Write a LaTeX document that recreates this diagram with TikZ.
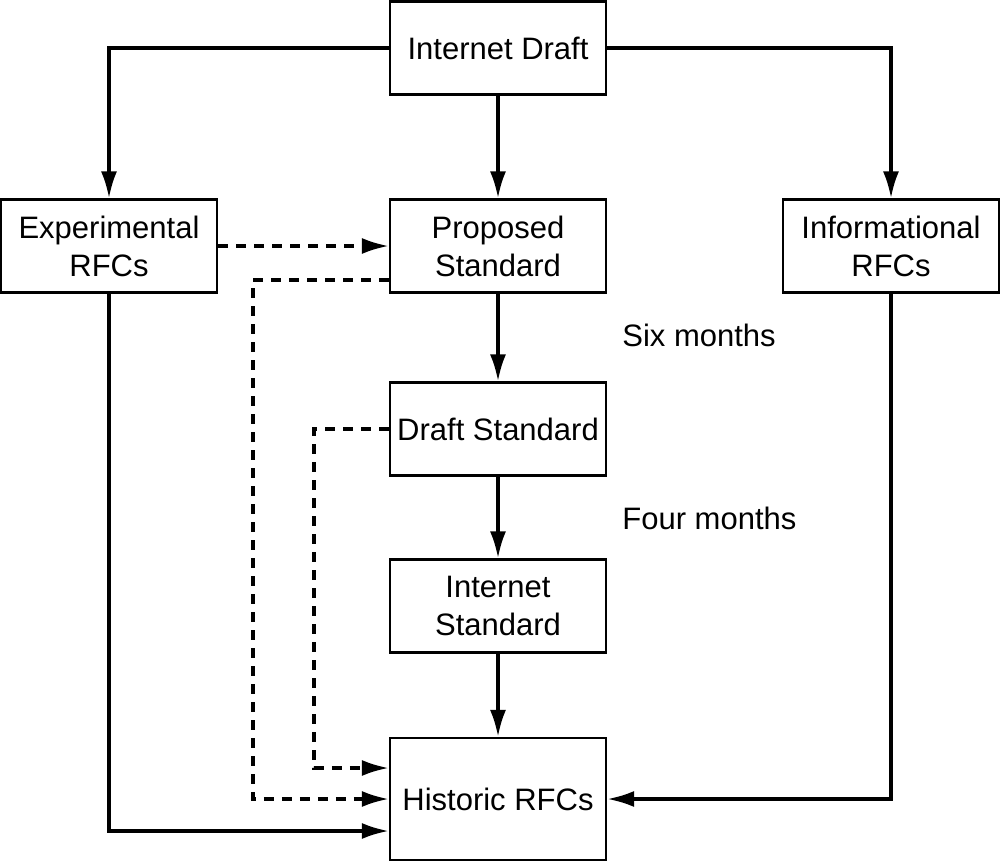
\documentclass[tikz,border=0pt]{standalone}
\usepackage{fontspec}
\setmainfont{Liberation Sans}
\usetikzlibrary{arrows.meta}
\tikzset{
  rfcnode/.style = {draw, line width=1.1pt, align=center, inner sep=0pt,
    font=\fontsize{15.5}{19}\selectfont},
  rfc_n/.style = {rfcnode, minimum width=108pt, minimum height=46.5pt},% boite normale
  rfc_h/.style = {rfcnode, minimum width=108pt, minimum height=61pt},% boite historique
  rfc_l/.style = {font=\fontsize{15.5}{19}\selectfont, inner sep=0pt, anchor=base west},% texte libre
  flow/.style = {line width=1.7pt, -{Latex[length=13.5pt,width=8pt]}},
  flow_d/.style = {flow, dash pattern=on 5pt off 4pt}
}
\begin{document}
\begin{tikzpicture}[x=0.5pt,y=-0.5pt]
  \useasboundingbox (0,0) rectangle (1001,862);
  \node [rfc_n] (idraft) at (498,48) {Internet Draft};
  \node [rfc_n] (exper) at (109,246) {Experimental\\RFCs};
  \node [rfc_n] (propstd) at (498,246) {Proposed\\Standard};
  \node [rfc_n] (inform) at (891,246) {Informational\\RFCs};
  \node [rfc_n] (draftstd) at (498,429) {Draft Standard};
  \node [rfc_n] (inetstd) at (498,606) {Internet\\Standard};
  \node [rfc_h] (historic) at (498,799) {Historic RFCs};
  \node [rfc_l] (six) at (622,346) {Six months};
  \node [rfc_l] (four) at (622,529) {Four months};

  \draw [flow] (idraft.west) -| (exper.north);
  \draw [flow] (idraft.east) -| (inform.north);
  \draw [flow] (idraft) -- (propstd);
  \draw [flow] (propstd) -- (draftstd);
  \draw [flow] (draftstd) -- (inetstd);
  \draw [flow] (inetstd) -- (historic);
  \draw [flow_d] (exper.east) -- (propstd.west);
  \draw [flow_d] ([yshift=-17pt]propstd.west) -- ++(-68pt,0) |- (historic.west);
  \draw [flow_d] (draftstd.west) -- ++(-37.5pt,0) |- ([yshift=15.5pt]historic.west);
  \draw [flow] (exper.south) |- ([yshift=-16pt]historic.west);
  \draw [flow] (inform.south) |- (historic.east);
\end{tikzpicture}
\end{document}
